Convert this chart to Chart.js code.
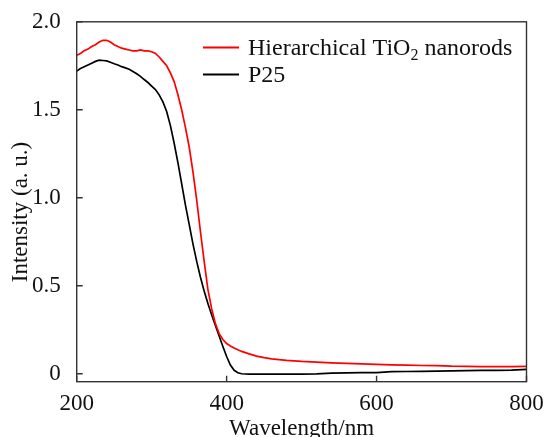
<!DOCTYPE html>
<html lang="en">

<head>
    <meta charset="UTF-8">
    <title>UV-Vis absorption</title>
    <script src="https://cdn.jsdelivr.net/npm/chart.js"></script>
    <style>
        body { margin: 0; background: #fff; }
        .chart-box { width: 544px; height: 437px; }
    </style>
</head>

<body>
    <div class="chart-box">
        <canvas id="grafico"></canvas>
    </div>
</body>

</html>

<script>
    // wavelengths (nm) shared by both curves
    const comprimentos = [
        200, 205, 210, 215, 220, 225, 230, 235, 240, 245, 250, 255, 260, 265, 270, 275, 280, 285, 290, 295,
        300, 305, 310, 315, 320, 325, 330, 335, 340, 345, 350, 355, 360, 365, 370, 375, 380, 385, 390, 395,
        400, 405, 410, 415, 420, 430, 440, 450, 460, 470, 480, 490, 500, 520, 540, 560, 580, 600, 620, 640,
        660, 680, 700, 720, 740, 760, 780, 800
    ];

    // Hierarchical TiO2 nanorods
    const nanorods = [
        1.81, 1.82, 1.835, 1.845, 1.86, 1.87, 1.885, 1.895, 1.895, 1.885, 1.87, 1.86, 1.85, 1.845, 1.84, 1.835, 1.835, 1.84, 1.835, 1.835,
        1.83, 1.82, 1.80, 1.775, 1.75, 1.71, 1.66, 1.585, 1.50, 1.40, 1.29, 1.15, 0.99, 0.81, 0.64, 0.48, 0.37, 0.285, 0.228, 0.195,
        0.172, 0.158, 0.146, 0.136, 0.127, 0.113, 0.100, 0.092, 0.085, 0.080, 0.076, 0.073, 0.070, 0.066, 0.062, 0.059, 0.056, 0.053, 0.051, 0.049,
        0.047, 0.046, 0.043, 0.042, 0.041, 0.041, 0.041, 0.042
    ];

    // P25
    const p25 = [
        1.72, 1.735, 1.745, 1.755, 1.765, 1.775, 1.782, 1.78, 1.778, 1.77, 1.762, 1.755, 1.745, 1.738, 1.73, 1.718, 1.705, 1.69, 1.672, 1.655,
        1.635, 1.615, 1.585, 1.545, 1.49, 1.41, 1.31, 1.20, 1.08, 0.96, 0.85, 0.74, 0.64, 0.55, 0.47, 0.40, 0.335, 0.275, 0.215, 0.155,
        0.098, 0.05, 0.02, 0.006, 0.0, -0.002, -0.002, -0.002, -0.002, -0.002, -0.002, -0.002, -0.002, 0.0, 0.004, 0.005, 0.006, 0.007, 0.012, 0.013,
        0.014, 0.015, 0.016, 0.018, 0.019, 0.019, 0.021, 0.025
    ];

    const ticksX = [200, 400, 600, 800];
    const ticksY = [0, 0.5, 1.0, 1.5, 2.0];

    const nomes = ['Hierarchical TiO', 'P25'];
    const cores = ['#ff0000', '#000000'];
    const tituloX = 'Wavelength/nm';
    const tituloY = 'Intensity (a. u.)';

    const fonte = '"Liberation Serif", "Times New Roman", serif';

    function montarPontos(valores) {
        let pontos = [];
        for (let i = 0; i < comprimentos.length; i++) {
            pontos.push({ x: comprimentos[i], y: valores[i] });
        }
        return pontos;
    }

    // moldura, ticks para dentro, legenda e titulos dos eixos
    const molduraPlugin = {
        id: 'moldura',
        afterDraw(chart) {
            const ctx = chart.ctx;
            const area = chart.chartArea;
            const sx = chart.scales.x;
            const sy = chart.scales.y;

            ctx.save();
            ctx.strokeStyle = '#333';
            ctx.lineWidth = 1.4;
            ctx.strokeRect(area.left, area.top, area.right - area.left, area.bottom - area.top);

            ctx.beginPath();
            ticksX.forEach(function (v) {
                const px = sx.getPixelForValue(v);
                ctx.moveTo(px, area.bottom);
                ctx.lineTo(px, area.bottom - 6);
            });
            ticksY.forEach(function (v) {
                const py = sy.getPixelForValue(v);
                ctx.moveTo(area.left, py);
                ctx.lineTo(area.left + 6, py);
            });
            ctx.stroke();

            // legenda
            const linhasY = [47.5, 74.5];
            ctx.lineWidth = 2;
            ctx.fillStyle = '#111';
            ctx.textBaseline = 'alphabetic';
            for (let i = 0; i < nomes.length; i++) {
                ctx.strokeStyle = cores[i];
                ctx.beginPath();
                ctx.moveTo(203, linhasY[i]);
                ctx.lineTo(239, linhasY[i]);
                ctx.stroke();

                const base = linhasY[i] + 7.5;
                ctx.font = '24px ' + fonte;
                ctx.textAlign = 'left';
                ctx.fillText(nomes[i], 248, base);
                if (i === 0) {
                    let x = 248 + ctx.measureText(nomes[i]).width;
                    ctx.font = '16px ' + fonte;
                    ctx.fillText('2', x, base + 5);
                    x += ctx.measureText('2').width;
                    ctx.font = '24px ' + fonte;
                    ctx.fillText(' nanorods', x, base);
                }
            }

            // titulos
            ctx.font = '23px ' + fonte;
            ctx.textAlign = 'center';
            ctx.fillText(tituloX, (area.left + area.right) / 2, 435);

            ctx.translate(27, 212);
            ctx.rotate(-Math.PI / 2);
            ctx.fillText(tituloY, 0, 0);
            ctx.restore();
        }
    };

    const dados = {
        datasets: [
            {
                label: 'Hierarchical TiO2 nanorods',
                data: montarPontos(nanorods),
                borderColor: cores[0],
                borderWidth: 1.7,
                pointRadius: 0,
                fill: false,
                tension: 0
            },
            {
                label: 'P25',
                data: montarPontos(p25),
                borderColor: cores[1],
                borderWidth: 1.7,
                pointRadius: 0,
                fill: false,
                tension: 0
            }
        ]
    };

    const config = {
        type: 'line',
        data: dados,
        options: {
            responsive: true,
            maintainAspectRatio: false,
            animation: false,
            layout: { padding: { top: 19.5, right: 17.5, left: 0, bottom: 0 } },
            plugins: {
                legend: { display: false },
                tooltip: { enabled: false }
            },
            scales: {
                x: {
                    type: 'linear',
                    min: 200,
                    max: 800,
                    afterFit: function (scale) { scale.height = 55.3; },
                    afterBuildTicks: function (scale) {
                        scale.ticks = ticksX.map(function (v) { return { value: v }; });
                    },
                    grid: { display: false },
                    border: { display: false },
                    ticks: {
                        color: '#111',
                        padding: 0,
                        maxRotation: 0,
                        font: { family: fonte, size: 23 }
                    }
                },
                y: {
                    min: -0.045,
                    max: 2.0,
                    afterFit: function (scale) { scale.width = 76.7; },
                    afterBuildTicks: function (scale) {
                        scale.ticks = ticksY.map(function (v) { return { value: v }; });
                    },
                    grid: { display: false },
                    border: { display: false },
                    ticks: {
                        color: '#111',
                        padding: 8,
                        font: { family: fonte, size: 23 },
                        callback: function (v) { return v === 0 ? '0' : v.toFixed(1); }
                    }
                }
            }
        },
        plugins: [molduraPlugin]
    };

    let myChart = new Chart(document.getElementById('grafico'), config);
</script>
